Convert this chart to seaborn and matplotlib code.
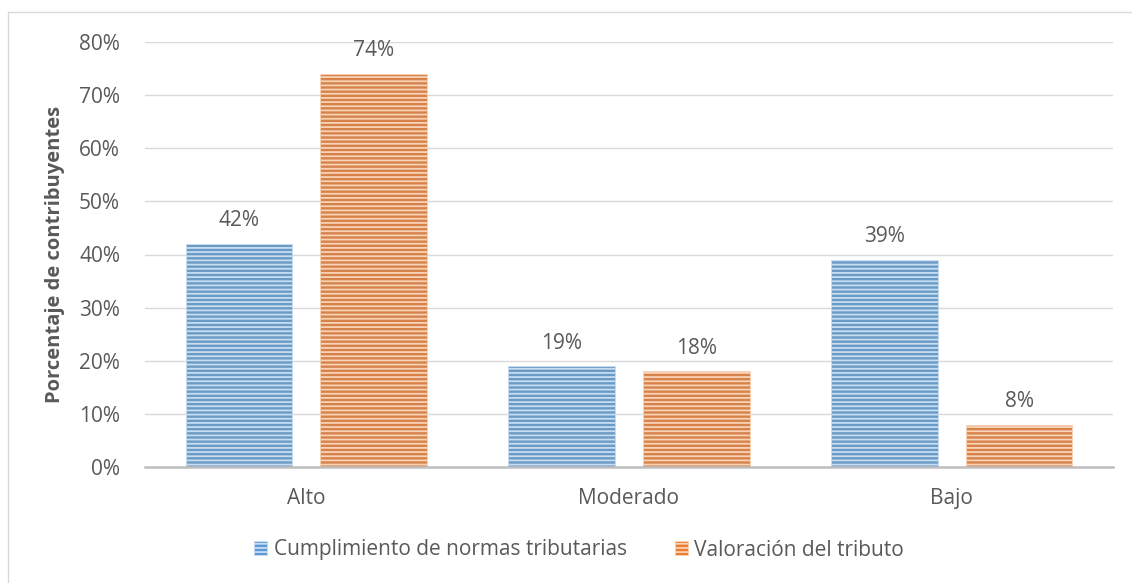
import matplotlib
matplotlib.use("Agg")
import matplotlib.pyplot as plt
import matplotlib.patches as mpatches
from matplotlib.lines import Line2D
from matplotlib.ticker import PercentFormatter, MultipleLocator
import seaborn as sns
import pandas as pd

categories = ["Alto", "Moderado", "Bajo"]
series_names = ["Cumplimiento de normas tributarias", "Valoración del tributo"]
cumplimiento = [0.42, 0.19, 0.39]
valoracion = [0.74, 0.18, 0.08]

colors = ["#5B9BD5", "#ED7D31"]
stripe_colors = ["#C9DDF1", "#F9D3B8"]
text_color = "#595959"

df = pd.DataFrame({
    "categoria": categories * 2,
    "serie": [series_names[0]] * 3 + [series_names[1]] * 3,
    "valor": cumplimiento + valoracion,
})

sns.set_style("white")
plt.rcParams["font.family"] = ["Open Sans", "DejaVu Sans"]
plt.rcParams["hatch.linewidth"] = 1.3

fig = plt.figure(figsize=(11.32, 5.83), dpi=100)
ax = fig.add_axes([145 / 1132, 116 / 583, (1113 - 145) / 1132, (541 - 116) / 583])

sns.barplot(data=df, x="categoria", y="valor", hue="serie", palette=colors,
            width=0.836, gap=0.21, ax=ax, legend=False, order=categories,
            hue_order=series_names)

fs = 15
for cont, sc in zip(ax.containers, stripe_colors):
    for p in cont:
        p.set_hatch("----")
        p.set_edgecolor(sc)
        p.set_linewidth(0.6)
    ax.bar_label(cont, labels=[f"{v.get_height()*100:.0f}%" for v in cont],
                 padding=9, fontsize=fs, color=text_color)

ax.set_ylim(0, 0.8)
ax.set_xlim(-0.5, 2.5)
ax.yaxis.set_major_locator(MultipleLocator(0.1))
ax.yaxis.set_major_formatter(PercentFormatter(1.0, decimals=0))
ax.grid(axis="y", color="#D9D9D9", linewidth=1.0)
ax.set_axisbelow(True)
for s in ["top", "right", "left"]:
    ax.spines[s].set_visible(False)
ax.spines["bottom"].set_color("#BFBFBF")
ax.spines["bottom"].set_linewidth(1.8)
ax.tick_params(axis="both", length=0, labelsize=fs, labelcolor=text_color)
ax.tick_params(axis="y", pad=18)
ax.tick_params(axis="x", pad=15)
ax.set_xlabel("")
ax.set_ylabel("Porcentaje de contribuyentes", fontsize=14.5, fontweight="bold",
              color=text_color, labelpad=10)

handles = [mpatches.Patch(facecolor=c, edgecolor=sc, hatch="----", linewidth=0.6)
           for c, sc in zip(colors, stripe_colors)]
fig.legend(handles, series_names, loc="center", bbox_to_anchor=(579 / 1132, 33 / 583),
           ncol=2, frameon=False, fontsize=fs, labelcolor=text_color,
           handlelength=0.65, handleheight=0.65, handletextpad=0.3,
           columnspacing=2.3)

fig.add_artist(Line2D([8 / 1132, 8 / 1132], [0, 1 - 12 / 583], transform=fig.transFigure,
                      color="#D9D9D9", linewidth=1.0))
fig.add_artist(Line2D([8 / 1132, 1], [1 - 12 / 583, 1 - 12 / 583], transform=fig.transFigure,
                      color="#D9D9D9", linewidth=1.0))

fig.savefig("out.png", dpi=100)
